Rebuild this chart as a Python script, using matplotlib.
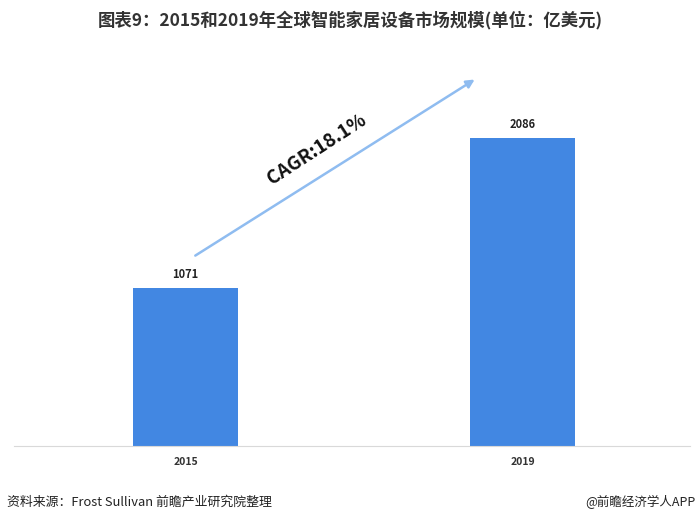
import matplotlib.pyplot as plt

plt.rcParams['font.family'] = ['Noto Sans CJK SC', 'DejaVu Sans']

years = ["2015", "2019"]
values = [1071, 2086]
cagr_label = "CAGR:18.1%"
title = "图表9：2015和2019年全球智能家居设备市场规模(单位：亿美元)"
source = "资料来源：Frost Sullivan 前瞻产业研究院整理"
credit = "@前瞻经济学人APP"

fig = plt.figure(figsize=(7, 5.23), dpi=100)
ax = fig.add_axes([0.02, 0.1472, 0.9657, 0.738])

x = range(len(years))
ax.bar(x, values, width=0.31, color="#4287e2", zorder=2)
for i, v in zip(x, values):
    ax.text(i, v + 50, str(v), ha="center", va="bottom", fontsize=8,
            fontweight="bold", color="#222222")

ax.set_xlim(-0.509, 1.497)
ax.set_ylim(0, 2617)
ax.set_xticks(list(x))
ax.set_xticklabels(years, fontsize=7.5, fontweight="bold", color="#333333")
ax.tick_params(axis="x", length=0, pad=8)
ax.set_yticks([])
for s in ["top", "right", "left"]:
    ax.spines[s].set_visible(False)
ax.spines["bottom"].set_color("#d9d9d9")

# CAGR arrow
ax.annotate("", xy=(0.865, 2495), xytext=(0.022, 1281),
            arrowprops=dict(arrowstyle="-|>", color="#8fbcf0", lw=1.8,
                            mutation_scale=12))
ax.text(0.39, 2010, cagr_label, rotation=33, ha="center", va="center",
        fontsize=13.5, fontweight="bold", color="#111111",
        rotation_mode="anchor")

fig.text(0.5, 0.962, title, ha="center", va="center", fontsize=12.5,
         fontweight="bold", color="#333333")
fig.text(0.01, 0.04, source, ha="left", va="center", fontsize=9.3,
         color="#222222")
fig.text(0.993, 0.04, credit, ha="right", va="center", fontsize=9,
         color="#222222")

fig.savefig("out.png", dpi=100)
